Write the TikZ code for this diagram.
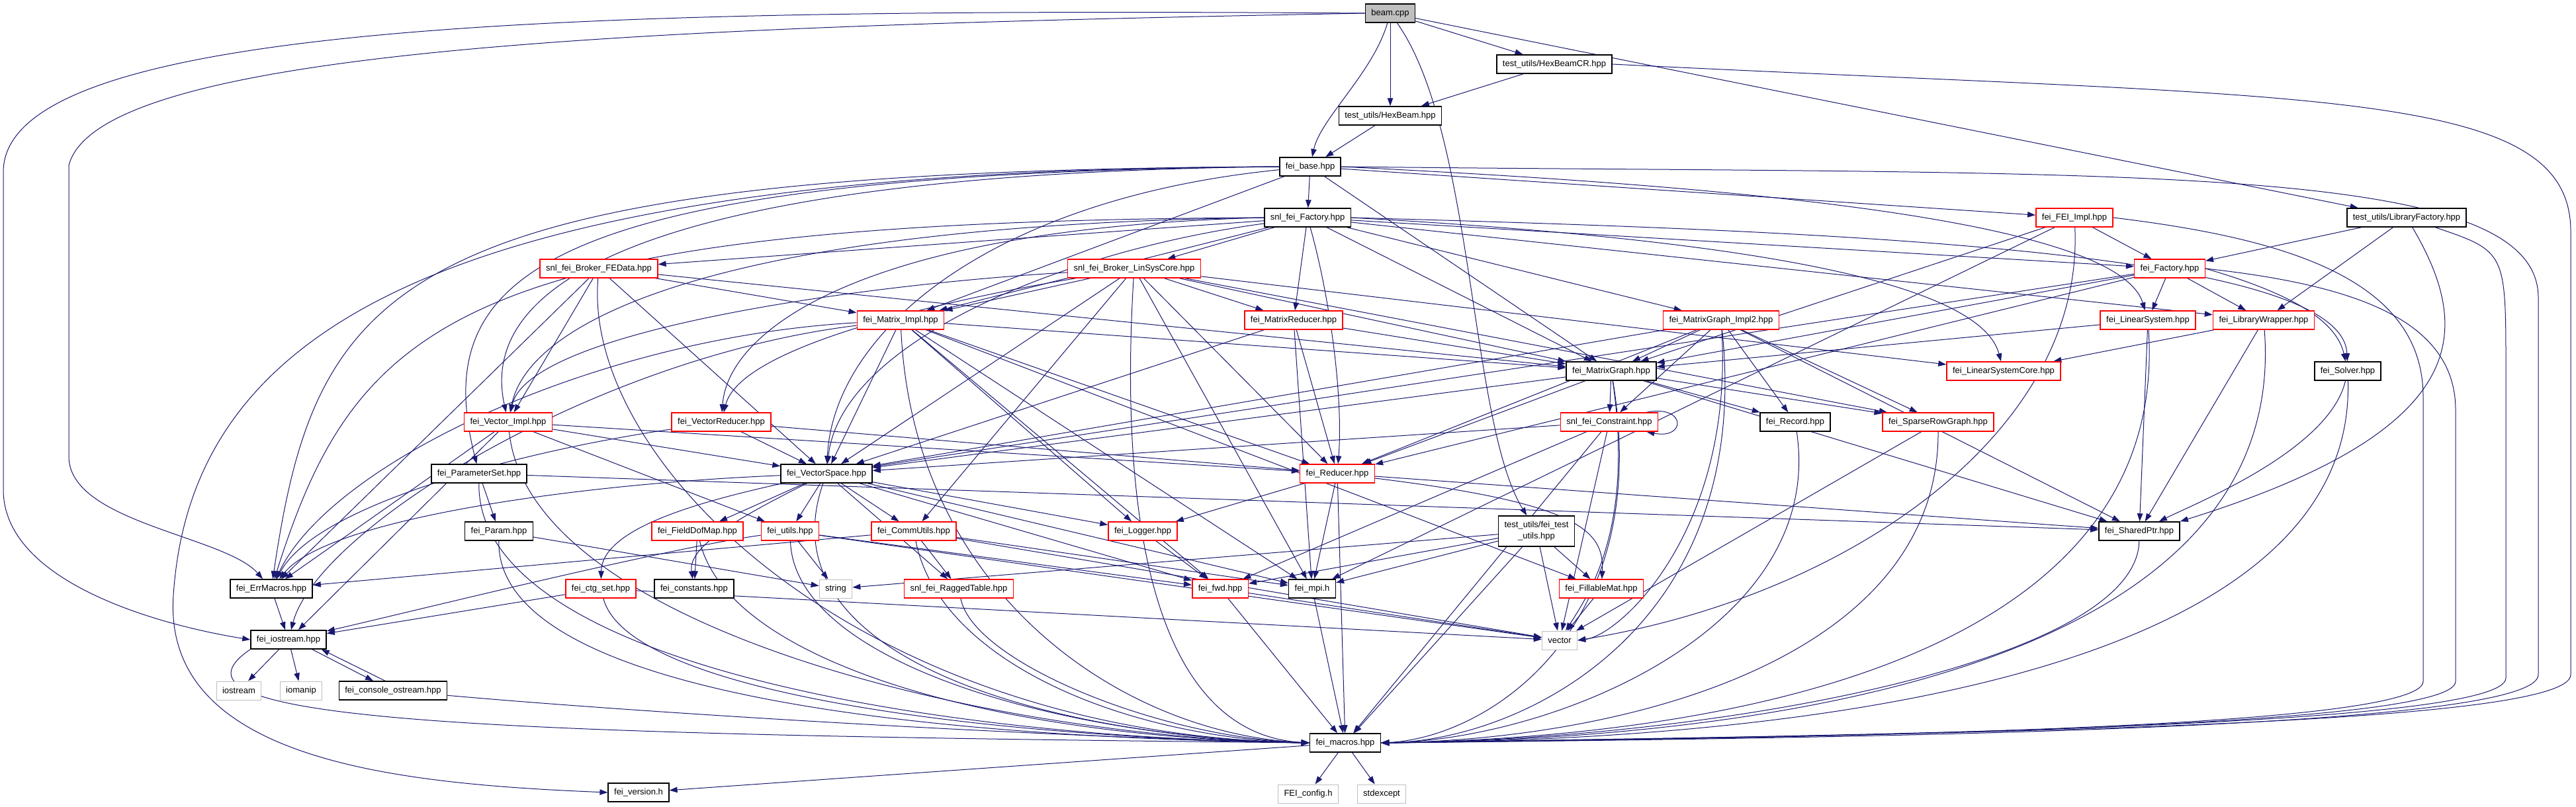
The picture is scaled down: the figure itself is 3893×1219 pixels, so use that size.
\documentclass[tikz,border=0pt]{standalone}
\usepackage{fontspec}
\setmainfont{Liberation Sans}
\usetikzlibrary{arrows.meta}
\pgfdeclarelayer{bg}
\pgfsetlayers{bg,main}
\definecolor{incblue}{HTML}{191970}
\definecolor{sysgray}{HTML}{BFBFBF}
\tikzset{
  file/.style={draw=black, fill=white, line width=1.5pt, inner xsep=9pt, inner ysep=3pt,
    minimum height=28pt, font=\fontsize{13}{17}\selectfont},
  trunc/.style={file, draw=red},
  sys/.style={file, draw=sysgray, line width=1pt},
  root/.style={file, fill=sysgray},
  tall/.style={align=center, minimum height=46pt},
  inc/.style={draw=incblue, line width=1pt, -{Triangle[length=12pt,width=8.5pt]}}
}

\begin{document}
\begin{tikzpicture}[x=1pt,y=1pt]
  \useasboundingbox (0,0) rectangle (3893,-1219);
  \node[root]  (beam)      at (2101,-20)   {beam.cpp};
  \node[file]  (hexcr)     at (2349,-97)   {test\_utils/HexBeamCR.hpp};
  \node[file]  (hex)       at (2101,-175)  {test\_utils/HexBeam.hpp};
  \node[file]  (base)      at (1980,-252)  {fei\_base.hpp};
  \node[file]  (snlfac)    at (1976,-329)  {snl\_fei\_Factory.hpp};
  \node[trunc] (feiimpl)   at (3135,-329)  {fei\_FEI\_Impl.hpp};
  \node[file]  (libfac)    at (3637,-329)  {test\_utils/LibraryFactory.hpp};
  \node[trunc] (febroker)  at (905,-406)   {snl\_fei\_Broker\_FEData.hpp};
  \node[trunc] (lscbroker) at (1714,-406)  {snl\_fei\_Broker\_LinSysCore.hpp};
  \node[trunc] (feifac)    at (3279,-406)  {fei\_Factory.hpp};
  \node[trunc] (matimpl)   at (1361,-484)  {fei\_Matrix\_Impl.hpp};
  \node[trunc] (matred)    at (1955,-484)  {fei\_MatrixReducer.hpp};
  \node[trunc] (mgimpl2)   at (2601,-484)  {fei\_MatrixGraph\_Impl2.hpp};
  \node[trunc] (linsys)    at (3246,-484)  {fei\_LinearSystem.hpp};
  \node[trunc] (libwrap)   at (3421,-484)  {fei\_LibraryWrapper.hpp};
  \node[file]  (mgraph)    at (2435,-561)  {fei\_MatrixGraph.hpp};
  \node[trunc] (lscore)    at (3028,-561)  {fei\_LinearSystemCore.hpp};
  \node[file]  (solver)    at (3548,-561)  {fei\_Solver.hpp};
  \node[trunc] (vecimpl)   at (768,-638)   {fei\_Vector\_Impl.hpp};
  \node[trunc] (vecred)    at (1090,-638)  {fei\_VectorReducer.hpp};
  \node[trunc] (constr)    at (2432,-638)  {snl\_fei\_Constraint.hpp};
  \node[file]  (record)    at (2713,-638)  {fei\_Record.hpp};
  \node[trunc] (srgraph)   at (2929,-638)  {fei\_SparseRowGraph.hpp};
  \node[file]  (pset)      at (724,-716)   {fei\_ParameterSet.hpp};
  \node[file]  (vspace)    at (1249,-716)  {fei\_VectorSpace.hpp};
  \node[trunc] (reducer)   at (2021,-716)  {fei\_Reducer.hpp};
  \node[file]  (param)     at (754,-803)   {fei\_Param.hpp};
  \node[trunc] (fdmap)     at (1054,-803)  {fei\_FieldDofMap.hpp};
  \node[trunc] (utils)     at (1194,-803)  {fei\_utils.hpp};
  \node[trunc] (comm)      at (1381,-803)  {fei\_CommUtils.hpp};
  \node[trunc] (logger)    at (1727,-803)  {fei\_Logger.hpp};
  \node[file, tall] (tutils) at (2322,-803) {test\_utils/fei\_test\\\_utils.hpp};
  \node[file]  (shptr)     at (3233,-803)  {fei\_SharedPtr.hpp};
  \node[file]  (errm)      at (410,-890)   {fei\_ErrMacros.hpp};
  \node[trunc] (ctgset)    at (908,-890)   {fei\_ctg\_set.hpp};
  \node[file]  (consts)    at (1049,-890)  {fei\_constants.hpp};
  \node[sys]   (string)    at (1263,-890)  {string};
  \node[trunc] (ragged)    at (1449,-890)  {snl\_fei\_RaggedTable.hpp};
  \node[trunc] (fwd)       at (1844,-890)  {fei\_fwd.hpp};
  \node[file]  (mpi)       at (1983,-890)  {fei\_mpi.h};
  \node[trunc] (fillmat)   at (2420,-890)  {fei\_FillableMat.hpp};
  \node[file]  (iostr)     at (436,-967)   {fei\_iostream.hpp};
  \node[sys]   (vector)    at (2357,-968)  {vector};
  \node[sys]   (iostream)  at (361,-1044)  {iostream};
  \node[sys]   (iomanip)   at (455,-1044)  {iomanip};
  \node[file]  (console)   at (594,-1044)  {fei\_console\_ostream.hpp};
  \node[file]  (macros)    at (2033,-1123) {fei\_macros.hpp};
  \node[file]  (version)   at (965,-1198)  {fei\_version.h};
  \node[sys]   (feiconfig) at (1977,-1200) {FEI\_config.h};
  \node[sys]   (stdexcept) at (2088,-1200) {stdexcept};

  \begin{pgfonlayer}{bg}
  \draw[inc] (beam) -- (hexcr);
  \draw[inc] (beam) -- (hex);
  \draw[inc] (beam) .. controls (2075,-110) and (1995,-180) .. (base);
  \draw[inc] (beam) -- (libfac);
  \draw[inc] (beam) .. controls (2228,-200) and (2221,-640) .. (tutils);
  \draw[inc] (beam.west) .. controls (1000,-40) and (150,-70) .. (104,-250) -- (104,-690) .. controls (104,-790) and (340,-810) .. (errm);
  \draw[inc] (beam.west) .. controls (900,-12) and (5,-30) .. (5,-260) -- (5,-740) .. controls (5,-880) and (240,-945) .. (iostr.west);
  \draw[inc] (hexcr) -- (hex);
  \draw[inc] (hexcr.east) .. controls (3500,-150) and (3885,-130) .. (3885,-350) -- (3885,-1020) .. controls (3885,-1100) and (2900,-1110) .. (macros.east);
  \draw[inc] (hex) -- (base);

  \draw[inc] (base) -- (snlfac);
  \draw[inc] (base) -- (feiimpl);
  \draw[inc] (base) -- (mgraph);
  \draw[inc] (base) -- (matimpl);
  \draw[inc] (base.west) .. controls (1000,-262) and (720,-420) .. (vecimpl);
  \draw[inc] (base) .. controls (1500,-300) and (1260,-500) .. (vspace);
  \draw[inc] (base.west) .. controls (800,-262) and (650,-420) .. (pset);
  \draw[inc] (base.west) .. controls (600,-258) and (480,-420) .. (errm);
  \draw[inc] (base.east) .. controls (2600,-280) and (3200,-330) .. (linsys);
  \draw[inc] (base.east) .. controls (3200,-265) and (3836,-240) .. (3836,-450) -- (3836,-1020) .. controls (3836,-1100) and (2900,-1115) .. (macros.east);
  \draw[inc] (base.west) .. controls (700,-255) and (290,-480) .. (262,-900) .. controls (245,-1150) and (600,-1185) .. (version.west);

  \draw[inc] (snlfac) -- (febroker);
  \draw[inc] (snlfac) -- (lscbroker);
  \draw[inc] (snlfac) -- (feifac);
  \draw[inc] (snlfac) -- (mgimpl2);
  \draw[inc] (snlfac) -- (matred);
  \draw[inc] (snlfac) .. controls (2010,-450) and (2030,-600) .. (reducer);
  \draw[inc] (snlfac) -- (mgraph);
  \draw[inc] (snlfac.west) .. controls (1300,-345) and (1100,-500) .. (vecred);
  \draw[inc] (snlfac.west) .. controls (1100,-340) and (800,-480) .. (vecimpl);
  \draw[inc] (snlfac) -- (matimpl);
  \draw[inc] (snlfac) .. controls (1600,-380) and (1270,-520) .. (vspace);
  \draw[inc] (snlfac) -- (libwrap);
  \draw[inc] (snlfac.east) .. controls (2600,-360) and (2990,-420) .. (lscore);
  \draw[inc] (snlfac.east) .. controls (2800,-350) and (3540,-380) .. (solver);
  \draw[inc] (snlfac.west) .. controls (700,-335) and (540,-480) .. (errm);

  \draw[inc] (feiimpl) -- (feifac);
  \draw[inc] (feiimpl) -- (mgraph);
  \draw[inc] (feiimpl) -- (mpi);
  \draw[inc] (feiimpl) .. controls (3150,-650) and (2800,-900) .. (vector.east);
  \draw[inc] (feiimpl.east) .. controls (3450,-360) and (3662,-420) .. (3662,-600) -- (3662,-1030) .. controls (3662,-1100) and (2800,-1115) .. (macros.east);

  \draw[inc] (libfac) -- (feifac);
  \draw[inc] (libfac) -- (libwrap);
  \draw[inc] (libfac) .. controls (3738,-500) and (3738,-650) .. (shptr.north east);
  \draw[inc] (libfac) .. controls (3787,-380) .. (3787,-560) -- (3787,-1025) .. controls (3787,-1100) and (2800,-1112) .. (macros.east);

  \draw[inc] (feifac) -- (linsys);
  \draw[inc] (feifac) -- (libwrap);
  \draw[inc] (feifac.east) .. controls (3450,-440) and (3530,-480) .. (solver);
  \draw[inc] (feifac) -- (mgraph);
  \draw[inc] (feifac) -- (vspace);
  \draw[inc] (feifac) -- (reducer);
  \draw[inc] (feifac.east) .. controls (3550,-430) and (3711,-480) .. (3711,-620) -- (3711,-1030) .. controls (3711,-1100) and (2800,-1114) .. (macros.east);

  \draw[inc] (lscbroker) -- (matimpl);
  \draw[inc] (lscbroker) -- (matred);
  \draw[inc] (lscbroker) -- (mgraph);
  \draw[inc] (lscbroker) -- (lscore);
  \draw[inc] (lscbroker) -- (srgraph);
  \draw[inc] (lscbroker) .. controls (1450,-450) and (1120,-520) .. (vecred);
  \draw[inc] (lscbroker) .. controls (1300,-430) and (800,-500) .. (vecimpl);
  \draw[inc] (lscbroker) -- (vspace);
  \draw[inc] (lscbroker) -- (reducer);
  \draw[inc] (lscbroker) -- (mpi);
  \draw[inc] (lscbroker) -- (comm);
  \draw[inc] (lscbroker) .. controls (1690,-800) and (1750,-1110) .. (macros.west);

  \draw[inc] (febroker) -- (matimpl);
  \draw[inc] (febroker) -- (vecimpl);
  \draw[inc] (febroker) -- (vspace);
  \draw[inc] (febroker) -- (mgraph);
  \draw[inc] (febroker) -- (errm);
  \draw[inc] (febroker) .. controls (880,-700) and (1300,-1110) .. (macros.west);

  \draw[inc] (matimpl) -- (vspace);
  \draw[inc] (matimpl) -- (mgraph);
  \draw[inc] (matimpl) -- (reducer);
  \draw[inc] (matimpl) -- (logger);
  \draw[inc] (matimpl) -- (fwd);
  \draw[inc] (matimpl) -- (mpi);
  \draw[inc] (matimpl) -- (fillmat);
  \draw[inc] (matimpl) .. controls (900,-510) and (500,-700) .. (errm);
  \draw[inc] (matimpl) .. controls (900,-540) and (480,-800) .. (iostr);
  \draw[inc] (matimpl) .. controls (1380,-900) and (1700,-1110) .. (macros.west);

  \draw[inc] (vecimpl) -- (vspace);
  \draw[inc] (vecimpl) -- (reducer);
  \draw[inc] (vecimpl) -- (errm);
  \draw[inc] (vecimpl) -- (iostr);
  \draw[inc] (vecimpl) -- (utils);
  \draw[inc] (vecimpl) .. controls (800,-950) and (1500,-1115) .. (macros.west);

  \draw[inc] (vecred) -- (vspace);
  \draw[inc] (vecred) -- (reducer);
  \draw[inc] (vecred) .. controls (800,-680) and (480,-760) .. (errm);

  \draw[inc] (mgimpl2) -- (mgraph);
  \draw[inc] (mgimpl2) -- (constr);
  \draw[inc] (mgimpl2) -- (record);
  \draw[inc] (mgimpl2) -- (srgraph);
  \draw[inc] (mgimpl2) -- (shptr);
  \draw[inc] (mgimpl2) -- (vspace);
  \draw[inc] (mgimpl2) -- (reducer);
  \draw[inc] (mgimpl2) .. controls (2620,-800) and (2450,-960) .. (vector.east);
  \draw[inc] (mgimpl2) .. controls (2650,-950) and (2300,-1120) .. (macros.east);

  \draw[inc] (mgraph) -- (constr);
  \draw[inc] (mgraph) -- (record);
  \draw[inc] (mgraph) -- (srgraph);
  \draw[inc] (mgraph) -- (shptr);
  \draw[inc] (mgraph) -- (vspace);
  \draw[inc] (mgraph) -- (reducer);
  \draw[inc] (mgraph) .. controls (2470,-800) and (2400,-900) .. (vector);
  \draw[inc] (mgraph) .. controls (2500,-950) and (2250,-1115) .. (macros.east);

  \draw[inc] (matred) -- (mgraph);
  \draw[inc] (matred) -- (reducer);
  \draw[inc] (matred) -- (vspace);
  \draw[inc] (matred) -- (mpi);

  \draw[inc] (linsys) -- (mgraph);
  \draw[inc] (linsys) -- (shptr);
  \draw[inc] (linsys) .. controls (3280,-1000) and (2600,-1115) .. (macros.east);
  \draw[inc] (libwrap) -- (lscore);
  \draw[inc] (libwrap) -- (shptr);
  \draw[inc] (libwrap) .. controls (3460,-1000) and (2700,-1117) .. (macros.east);
  \draw[inc] (solver) .. controls (3520,-680) and (3320,-760) .. (shptr);
  \draw[inc] (solver) .. controls (3560,-1000) and (2800,-1118) .. (macros.east);

  \draw[inc] ([xshift=-18pt]constr.north east) .. controls +(60,12) and +(60,-12) .. ([xshift=-18pt]constr.south east);
  \draw[inc] (constr) -- (vspace);
  \draw[inc] (constr) -- (fwd);
  \draw[inc] (constr) -- (vector);
  \draw[inc] (constr) -- (macros);
  \draw[inc] (record) .. controls (2760,-950) and (2350,-1118) .. (macros.east);
  \draw[inc] (srgraph) -- (vector);
  \draw[inc] (srgraph) .. controls (2930,-1000) and (2450,-1118) .. (macros.east);

  \draw[inc] (pset) -- (param);
  \draw[inc] (pset) -- (shptr);
  \draw[inc] (pset) .. controls (720,-1000) and (1400,-1115) .. (macros.west);

  \draw[inc] (vspace) -- (fdmap);
  \draw[inc] (vspace) -- (utils);
  \draw[inc] (vspace) -- (comm);
  \draw[inc] (vspace) -- (logger);
  \draw[inc] (vspace) -- (ragged);
  \draw[inc] (vspace) .. controls (1050,-760) and (910,-800) .. (ctgset);
  \draw[inc] (vspace) .. controls (1100,-790) and (1040,-830) .. (consts);
  \draw[inc] (vspace) -- (fwd);
  \draw[inc] (vspace) -- (mpi);
  \draw[inc] (vspace) .. controls (900,-730) and (500,-780) .. (errm);
  \draw[inc] (vspace) .. controls (1150,-1000) and (1600,-1115) .. (macros.west);

  \draw[inc] (reducer) -- (logger);
  \draw[inc] (reducer) -- (mpi);
  \draw[inc] (reducer) .. controls (2380,-760) and (2425,-800) .. (fillmat);
  \draw[inc] (reducer) -- (shptr);
  \draw[inc] (reducer) -- (macros);

  \draw[inc] (param) -- (string);
  \draw[inc] (param) .. controls (750,-1050) and (1400,-1115) .. (macros.west);
  \draw[inc] (fdmap) -- (consts);
  \draw[inc] (fdmap) .. controls (1100,-1000) and (1500,-1115) .. (macros.west);
  \draw[inc] (utils) -- (string);
  \draw[inc] (utils) .. controls (1000,-830) and (600,-930) .. (iostr);
  \draw[inc] (utils) -- (vector);
  \draw[inc] (utils) -- (fwd);
  \draw[inc] (utils) .. controls (1200,-1000) and (1600,-1115) .. (macros.west);
  \draw[inc] (comm) -- (errm);
  \draw[inc] (comm) -- (ragged);
  \draw[inc] (comm) -- (mpi);
  \draw[inc] (comm) -- (vector);
  \draw[inc] (comm) .. controls (1420,-1000) and (1700,-1115) .. (macros.west);
  \draw[inc] (logger) -- (fwd);

  \draw[inc] (tutils) -- (string);
  \draw[inc] (tutils) -- (fwd);
  \draw[inc] (tutils) -- (mpi);
  \draw[inc] (tutils) -- (vector);
  \draw[inc] (tutils) -- (fillmat);
  \draw[inc] (tutils) -- (macros);
  \draw[inc] (shptr) .. controls (3230,-1000) and (2600,-1118) .. (macros.east);

  \draw[inc] (errm) -- (iostr);
  \draw[inc] (ctgset) -- (iostr);
  \draw[inc] (ctgset) -- (vector);
  \draw[inc] (ctgset) .. controls (950,-1050) and (1500,-1115) .. (macros.west);
  \draw[inc] (ragged) .. controls (1470,-1000) and (1750,-1115) .. (macros.west);
  \draw[inc] (fwd) -- (macros);
  \draw[inc] (fwd) -- (vector);
  \draw[inc] (mpi) -- (macros);
  \draw[inc] (fillmat) -- (vector);

  \draw[inc] (iostr) -- (iostream);
  \draw[inc] (iostr) -- (iomanip);
  \draw[inc] ([xshift=-22pt]iostr.south east) -- ([xshift=-30pt]console.north);
  \draw[inc] ([xshift=-12pt]console.north) -- ([xshift=-8pt]iostr.south east);
  \draw[inc] (iostr.south west) .. controls (220,-1090) and (700,-1110) .. (macros.west);
  \draw[inc] (console) .. controls (1000,-1080) and (1600,-1115) .. (macros.west);

  \draw[inc] (macros) -- (version);
  \draw[inc] (macros) -- (feiconfig);
  \draw[inc] (macros) -- (stdexcept);
  \end{pgfonlayer}
\end{tikzpicture}
\end{document}
